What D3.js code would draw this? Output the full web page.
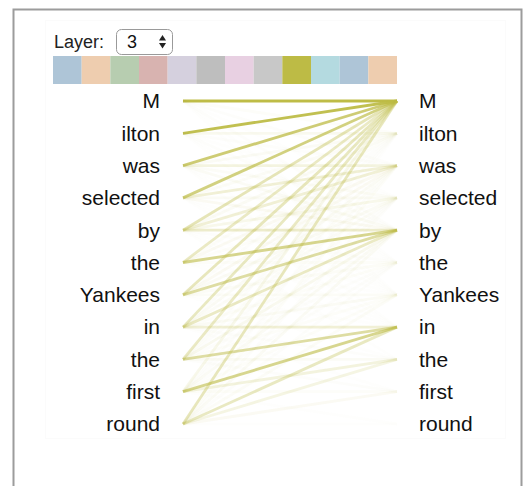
<!DOCTYPE html>
<html>
<head>
<meta charset="utf-8">
<script src="https://cdn.jsdelivr.net/npm/d3@7"></script>
<style>
  body { margin: 0; background: #fff; }
  svg { display: block; font-family: "Liberation Sans", Arial, Helvetica, sans-serif; }
</style>
</head>
<body>
<svg width="531" height="486"></svg>
<script>
// tokens (same on both sides)
const tokens = ["M", "ilton", "was", "selected", "by", "the", "Yankees", "in", "the", "first", "round"];
const layer = 3;
const nHeads = 12;
const selectedHead = 8;

// head box colours as shown (unselected heads are washed out)
const headColors = ["#aec5d7", "#eecdaf", "#b7cdb0", "#d8b3b0", "#d5d0de", "#bebebe",
                    "#e8d0e2", "#c8c8c8", "#bdbb45", "#b4dae0", "#aec5d7", "#eecdaf"];

// attention weights of the selected head, row = left token, column = right token
const attn = [
  [0.90, 0.03, 0.02, 0.01, 0.02, 0.01, 0.01, 0.00, 0.00, 0.00, 0.00],
  [0.85, 0.08, 0.02, 0.01, 0.02, 0.01, 0.01, 0.00, 0.00, 0.00, 0.00],
  [0.68, 0.05, 0.15, 0.04, 0.05, 0.01, 0.01, 0.01, 0.00, 0.00, 0.00],
  [0.62, 0.04, 0.20, 0.05, 0.06, 0.01, 0.01, 0.01, 0.00, 0.00, 0.00],
  [0.35, 0.05, 0.20, 0.10, 0.25, 0.02, 0.01, 0.01, 0.01, 0.00, 0.00],
  [0.28, 0.03, 0.06, 0.03, 0.55, 0.03, 0.01, 0.01, 0.00, 0.00, 0.00],
  [0.32, 0.02, 0.06, 0.05, 0.45, 0.04, 0.04, 0.01, 0.01, 0.00, 0.00],
  [0.30, 0.02, 0.05, 0.04, 0.28, 0.03, 0.05, 0.20, 0.02, 0.01, 0.00],
  [0.28, 0.02, 0.03, 0.02, 0.08, 0.02, 0.03, 0.45, 0.05, 0.02, 0.00],
  [0.10, 0.01, 0.02, 0.02, 0.05, 0.02, 0.03, 0.55, 0.16, 0.03, 0.01],
  [0.32, 0.01, 0.03, 0.02, 0.05, 0.02, 0.04, 0.30, 0.14, 0.06, 0.01]
];

const svg = d3.select("svg");

// outer frame (runs past the bottom of the window)
svg.append("path")
  .attr("d", "M13.5,500 V9.5 H521.5 V500")
  .attr("fill", "none")
  .attr("stroke", "#9c9c9c")
  .attr("stroke-width", 2);

// very faint inner panel
svg.append("rect")
  .attr("x", 45.5).attr("y", 20.5)
  .attr("width", 460).attr("height", 418)
  .attr("fill", "none")
  .attr("stroke", "#fbfbfb");

// layer selector
svg.append("text")
  .attr("x", 54).attr("y", 48)
  .attr("font-size", 18)
  .attr("fill", "#222")
  .text("Layer:");

const sel = svg.append("g").attr("transform", "translate(116,29)");
sel.append("rect")
  .attr("x", 0.5).attr("y", 0.5)
  .attr("width", 56).attr("height", 25)
  .attr("rx", 5)
  .attr("fill", "#fff")
  .attr("stroke", "#9a9a9a");
sel.append("text")
  .attr("x", 11).attr("y", 19)
  .attr("font-size", 18)
  .attr("fill", "#111")
  .text(layer);
sel.append("path").attr("d", "M43,11.5 L46.5,6 L50,11.5 Z").attr("fill", "#222");
sel.append("path").attr("d", "M43,14 L46.5,19.5 L50,14 Z").attr("fill", "#222");

// head colour boxes
const color = d3.scaleOrdinal().domain(d3.range(nHeads)).range(headColors);
const xHead = d3.scaleBand().domain(d3.range(nHeads)).range([53, 397]);

svg.append("g")
  .selectAll("rect")
  .data(d3.range(nHeads))
  .join("rect")
  .attr("x", d => xHead(d))
  .attr("y", 56)
  .attr("width", xHead.bandwidth())
  .attr("height", 28)
  .attr("fill", d => color(d));

// token positions
const y = d3.scalePoint().domain(d3.range(tokens.length)).range([101, 424]);
const xLeft = 183, xRight = 397;

// attention lines
const links = [];
attn.forEach((row, i) => row.forEach((w, j) => links.push({ i, j, w })));

svg.append("g")
  .selectAll("line")
  .data(links.filter(d => d.w > 0))
  .join("line")
  .attr("x1", xLeft)
  .attr("y1", d => y(d.i))
  .attr("x2", xRight)
  .attr("y2", d => y(d.j))
  .attr("stroke", color(selectedHead))
  .attr("stroke-width", 2.8)
  .attr("stroke-opacity", d => Math.min(1, d.w * 1.1));

// tokens
svg.append("g")
  .selectAll("text")
  .data(tokens)
  .join("text")
  .attr("x", 160)
  .attr("y", (d, i) => y(i))
  .attr("dy", "0.35em")
  .attr("text-anchor", "end")
  .attr("font-size", 21)
  .attr("fill", "#111")
  .text(d => d);

svg.append("g")
  .selectAll("text")
  .data(tokens)
  .join("text")
  .attr("x", 419)
  .attr("y", (d, i) => y(i))
  .attr("dy", "0.35em")
  .attr("font-size", 21)
  .attr("fill", "#111")
  .text(d => d);
</script>
</body>
</html>
